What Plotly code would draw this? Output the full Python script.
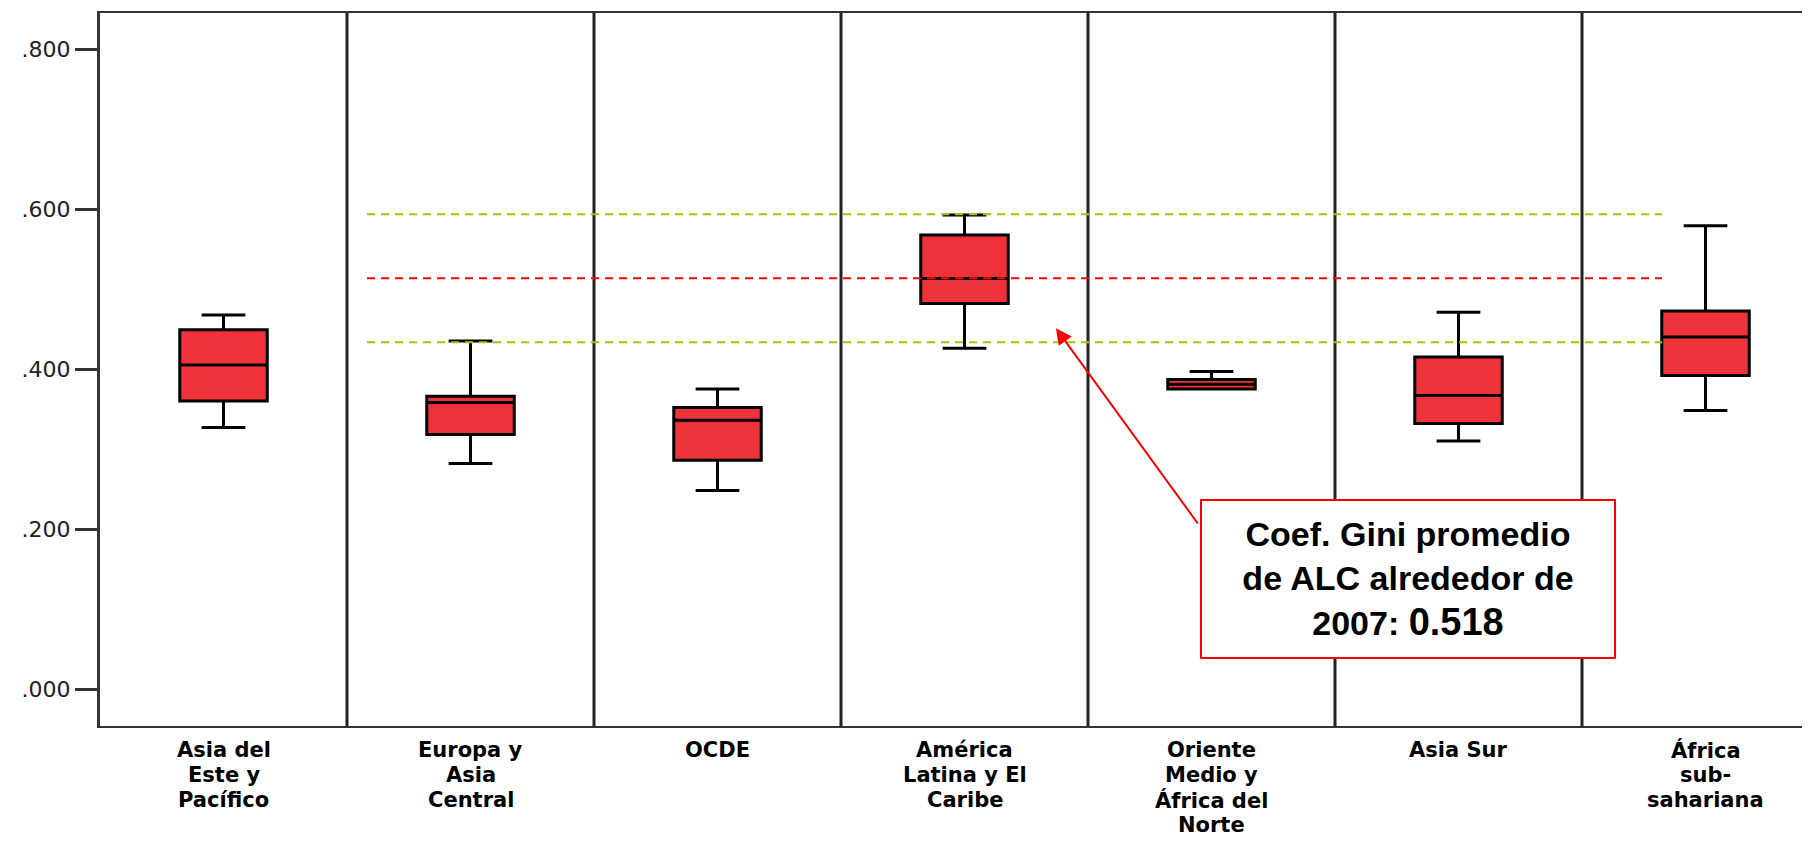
import plotly.graph_objects as go

# ---------------- data ----------------
categories = [
    "Asia del<br>Este y<br>Pacífico",
    "Europa y<br>Asia<br>Central",
    "OCDE",
    "América<br>Latina y El<br>Caribe",
    "Oriente<br>Medio y<br>África del<br>Norte",
    "Asia Sur",
    "África<br>sub-<br>sahariana",
]
lower_whisker = [0.327, 0.282, 0.248, 0.426, 0.375, 0.310, 0.348]
q1_vals       = [0.360, 0.318, 0.286, 0.482, 0.375, 0.332, 0.392]
median_vals   = [0.405, 0.358, 0.336, 0.513, 0.381, 0.367, 0.440]
q3_vals       = [0.449, 0.366, 0.352, 0.5675, 0.387, 0.415, 0.4725]
upper_whisker = [0.4675, 0.435, 0.375, 0.5925, 0.397, 0.471, 0.579]

# reference lines (ALC mean and band)
ref_values = [0.5933, 0.5133, 0.4333]
ref_colors = ["#99CC00", "#FF0000", "#99CC00"]

ytick_vals = [0.0, 0.2, 0.4, 0.6, 0.8]
ytick_text = [".000", ".200", ".400", ".600", ".800"]

note_text = ("Coef. Gini promedio<br>de ALC alrededor de<br>2007: "
             "<span style='font-size:38px'>0.518</span>")

# ---------------- figure ----------------
fig = go.Figure()
fig.add_trace(go.Box(
    x=categories,
    q1=q1_vals, median=median_vals, q3=q3_vals,
    lowerfence=lower_whisker, upperfence=upper_whisker,
    boxpoints=False,
    fillcolor="#EE323A",
    line=dict(color="#000000", width=3),
    whiskerwidth=0.5,
    showlegend=False,
    hoverinfo="skip",
))

shapes = []
# panel dividers
for i in range(len(categories) - 1):
    shapes.append(dict(type="line", xref="x", yref="paper",
                       x0=i + 0.5, x1=i + 0.5, y0=0, y1=1,
                       line=dict(color="#222222", width=3), layer="below"))
# dashed reference lines
for v, c in zip(ref_values, ref_colors):
    shapes.append(dict(type="line", xref="x", yref="y",
                       x0=0.581, x1=5.824, y0=v, y1=v,
                       line=dict(color=c, width=2, dash="8px,6px"), layer="above"))

annotations = []
# category labels, line by line
for i, cat in enumerate(categories):
    for j, line in enumerate(cat.split("<br>")):
        annotations.append(dict(
            x=i, xref="x", y=0, yref="paper",
            text=line, showarrow=False,
            xanchor="center", yanchor="middle",
            yshift=-(24 + 25 * j), borderpad=0,
            font=dict(family="DejaVu Sans", size=21, color="#000000", weight="bold"),
        ))

# arrow
annotations.append(dict(
    x=3.370, y=0.451, xref="x", yref="y",
    ax=3.949, ay=0.205, axref="x", ayref="y",
    text="", showarrow=True,
    arrowhead=2, arrowsize=1.6, arrowwidth=2, arrowcolor="#FF0000",
    standoff=0, startstandoff=0,
))
# note box
annotations.append(dict(
    x=4.796, y=0.137, xref="x", yref="y",
    text=note_text, showarrow=False,
    xanchor="center", yanchor="middle",
    width=398, height=142,
    bgcolor="#FFFFFF", bordercolor="#FF0000", borderwidth=2, borderpad=7,
    font=dict(family="Liberation Sans, Arial", size=34, color="#000000", weight="bold"),
    align="center",
))

# page body has an 8px margin: figure is 8px smaller so the plot lands where wanted
fig.update_layout(
    width=1802, height=837,
    margin=dict(l=92, r=0, t=5, b=119),
    paper_bgcolor="#FFFFFF", plot_bgcolor="#FFFFFF",
    boxgap=0.494,
    shapes=shapes,
    annotations=annotations,
    xaxis=dict(
        range=[-0.5, -0.5 + 1710 / 247],
        showticklabels=False, ticks="",
        showgrid=False, zeroline=False,
        showline=True, linecolor="#333333", linewidth=2, mirror=True,
    ),
    yaxis=dict(
        range=[-0.04625, 0.845],
        tickvals=ytick_vals, ticktext=ytick_text,
        ticks="outside", ticklen=22, tickwidth=3, tickcolor="#333333",
        tickfont=dict(family="DejaVu Sans", size=22, color="#222222"),
        showgrid=False, zeroline=False,
        showline=True, linecolor="#333333", linewidth=3, mirror=False,
    ),
)

fig.write_html("out.html")
